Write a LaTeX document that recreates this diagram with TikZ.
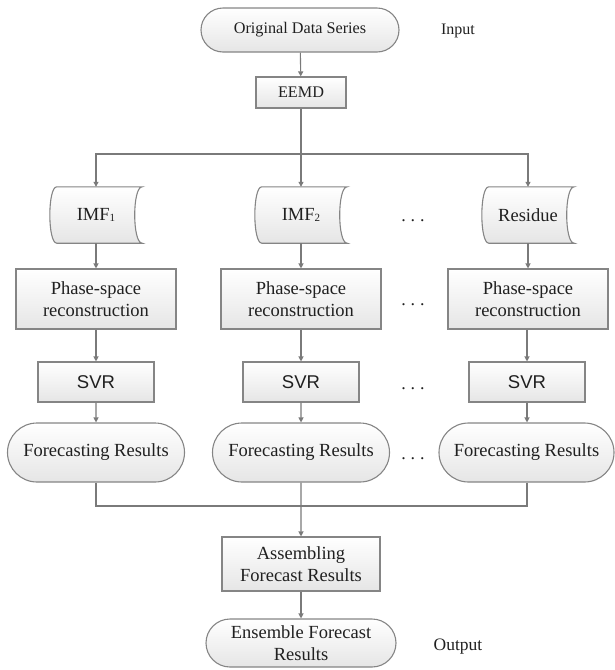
\documentclass[tikz,border=0pt]{standalone}
\usepackage{fontspec}
\setmainfont{Liberation Serif}
\newfontfamily\sansf{Liberation Sans}
\usetikzlibrary{shapes.misc,arrows.meta}
\definecolor{txt}{HTML}{202020}
\definecolor{edge}{HTML}{858585}
\definecolor{lnk}{HTML}{7A7A7A}
\newcommand{\storedshape}[1]{%
  \shade[top color=white,bottom color=gray!20,draw=edge,line width=1.1pt]
    ([xshift=7pt]#1.north west) -- (#1.north east)
    .. controls ([xshift=-10pt]#1.north east) and ([xshift=-10pt]#1.south east) .. (#1.south east)
    -- ([xshift=7pt]#1.south west)
    .. controls ([xshift=-2.3pt]#1.south west) and ([xshift=-2.3pt]#1.north west) .. ([xshift=7pt]#1.north west) -- cycle;}
\begin{document}
\begin{tikzpicture}[x=1pt,y=-1pt,
  every node/.style={text=txt,inner sep=0pt,font=\fontsize{18.5}{20}\selectfont},
  boxn/.style={draw=edge,line width=1.1pt,top color=white,bottom color=gray!20,align=center},
  termn/.style={rounded rectangle,draw=edge,line width=1.1pt,top color=white,bottom color=gray!20,align=center},
  storedn/.style={minimum width=92pt,minimum height=56pt},
  lbl/.style={font=\fontsize{17}{18}\selectfont},
  dotsn/.style={anchor=base,font=\fontsize{18}{18}\selectfont},
  link/.style={draw=lnk,line width=1.1pt},
  arr/.style={link,-{Triangle[width=5pt,length=5pt]}}]
\useasboundingbox (0,0) rectangle (614,670);

\node[termn,minimum width=198pt,minimum height=44pt,font=\fontsize{16.2}{18}\selectfont] (ods) at (300,30) {Original Data Series};
\node[lbl,font=\fontsize{16}{18}\selectfont] (input) at (458,31) {Input};
\node[boxn,minimum width=90pt,minimum height=31pt,font=\fontsize{16.2}{18}\selectfont] (eemd) at (301,92.5) {EEMD};

\path node[storedn] (imf1) at (96,215) {} node[storedn] (imf2) at (301,215) {} node[storedn] (res) at (528,215) {};
\storedshape{imf1}\storedshape{imf2}\storedshape{res}
\node at (imf1) {IMF\raisebox{-0.5pt}{\fontsize{11}{11}\selectfont 1}};
\node at (imf2) {IMF\raisebox{-0.5pt}{\fontsize{11}{11}\selectfont 2}};
\node at (res) {Residue};

\node[boxn,minimum width=160pt,minimum height=60pt,font=\fontsize{18.5}{22}\selectfont] (ps1) at (96,299) {Phase-space\\reconstruction};
\node[boxn,minimum width=160pt,minimum height=60pt,font=\fontsize{18.5}{22}\selectfont] (ps2) at (301,299) {Phase-space\\reconstruction};
\node[boxn,minimum width=160pt,minimum height=60pt,font=\fontsize{18.5}{22}\selectfont] (ps3) at (528,299) {Phase-space\\reconstruction};

\node[boxn,minimum width=116pt,minimum height=40pt,font=\sansf\fontsize{18.5}{20}\selectfont] (svr1) at (96,382) {SVR};
\node[boxn,minimum width=116pt,minimum height=40pt,font=\sansf\fontsize{18.5}{20}\selectfont] (svr2) at (301,382) {SVR};
\node[boxn,minimum width=116pt,minimum height=40pt,font=\sansf\fontsize{18.5}{20}\selectfont] (svr3) at (527,382) {SVR};

\node[termn,minimum width=177pt,minimum height=59pt] (fr1) at (96,452.5) {Forecasting Results};
\node[termn,minimum width=177pt,minimum height=59pt] (fr2) at (301,452.5) {Forecasting Results};
\node[termn,minimum width=175pt,minimum height=59pt] (fr3) at (526.5,452.5) {Forecasting Results};

\node[boxn,minimum width=158pt,minimum height=54pt,font=\fontsize{18.5}{22}\selectfont] (asm) at (301,564) {Assembling\\Forecast Results};
\node[termn,minimum width=190pt,minimum height=48pt,font=\fontsize{18.5}{22}\selectfont] (ens) at (301,643) {Ensemble Forecast\\Results};
\node[lbl,font=\fontsize{17.5}{18}\selectfont] (output) at (458,647) {Output};

\node[dotsn] (d1) at (413,221) {.\hspace{5pt}.\hspace{5pt}.};
\node[dotsn] (d2) at (413,305) {.\hspace{5pt}.\hspace{5pt}.};
\node[dotsn] (d3) at (413,389) {.\hspace{5pt}.\hspace{5pt}.};
\node[dotsn] (d4) at (413,459) {.\hspace{5pt}.\hspace{5pt}.};

\coordinate (split) at (301,154);
\coordinate (merge) at (301,506);
\draw[arr] (ods) -- (eemd);
\draw[link] (eemd) -- (split);
\draw[arr] (split) -- (imf2);
\draw[arr] (split) -| (imf1);
\draw[arr] (split) -| (res);
\draw[arr] (imf1) -- (ps1);
\draw[arr] (imf2) -- (ps2);
\draw[arr] (res) -- (ps3);
\draw[arr] (ps1) -- (svr1);
\draw[arr] (ps2) -- (svr2);
\draw[arr] (ps3.south -| svr3) -- (svr3);
\draw[arr] (svr1) -- (fr1);
\draw[arr] (svr2) -- (fr2);
\draw[arr] (svr3) -- (svr3 |- fr3.north);
\draw[link] (fr1) |- (merge);
\draw[link] (fr3.south -| svr3) |- (merge);
\draw[arr] (fr2) -- (asm);
\draw[arr] (asm) -- (ens);
\end{tikzpicture}
\end{document}
